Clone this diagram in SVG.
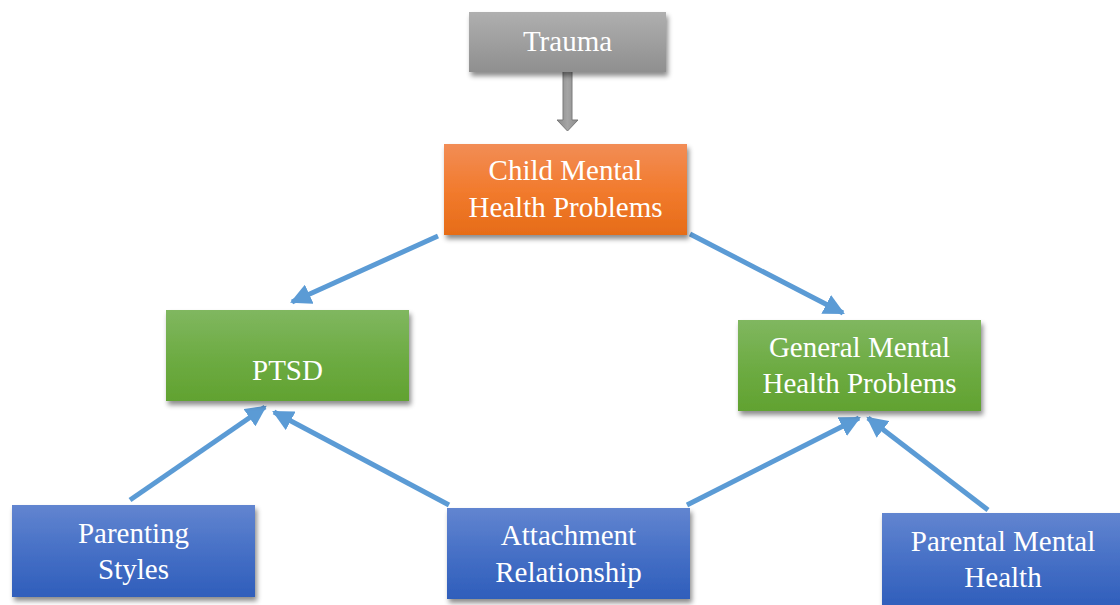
<svg xmlns="http://www.w3.org/2000/svg" width="1120" height="605" viewBox="0 0 1120 605">
<defs>
<linearGradient id="gGray" x1="0" y1="0" x2="0" y2="1"><stop offset="0" stop-color="#afafaf"/><stop offset="1" stop-color="#8f8f8f"/></linearGradient>
<linearGradient id="gOrange" x1="0" y1="0" x2="0" y2="1"><stop offset="0" stop-color="#f28d56"/><stop offset="0.5" stop-color="#f27b2e"/><stop offset="1" stop-color="#e66c18"/></linearGradient>
<linearGradient id="gGreen" x1="0" y1="0" x2="0" y2="1"><stop offset="0" stop-color="#80b760"/><stop offset="0.5" stop-color="#6eac44"/><stop offset="1" stop-color="#61a230"/></linearGradient>
<linearGradient id="gBlue" x1="0" y1="0" x2="0" y2="1"><stop offset="0" stop-color="#6285d0"/><stop offset="0.5" stop-color="#4670c6"/><stop offset="1" stop-color="#2f5ebb"/></linearGradient>
<linearGradient id="gShaft" x1="0" y1="0" x2="1" y2="0"><stop offset="0" stop-color="#8a8a8a"/><stop offset="0.5" stop-color="#a5a5a5"/><stop offset="1" stop-color="#8a8a8a"/></linearGradient>
<filter id="sh" x="-10%" y="-10%" width="125%" height="135%"><feDropShadow dx="2" dy="4" stdDeviation="2.5" flood-color="#000" flood-opacity="0.45"/></filter>
<marker id="ah" viewBox="0 0 10 10" refX="9" refY="5" markerWidth="4.2" markerHeight="4.2" orient="auto" markerUnits="strokeWidth"><path d="M0,0 L10,5 L0,10 z" fill="#5b9bd5"/></marker>
</defs>
<style>
.lbl{font-family:"Liberation Serif","Times New Roman",serif;font-size:29px;fill:#fff;text-anchor:middle}
.con{stroke:#5b9bd5;stroke-width:5;fill:none;marker-end:url(#ah)}
</style>
<rect width="1120" height="605" fill="#fff"/>
<g id="connectors">
<path d="M563,68 H572 V120 H578 L567.5,131 L557,120 H563 Z" fill="url(#gShaft)" stroke="#7a7a7a" stroke-width="1"/>
<line class="con" x1="438" y1="236" x2="292" y2="302"/>
<line class="con" x1="690" y1="234" x2="843" y2="313"/>
<line class="con" x1="130" y1="500" x2="265" y2="407"/>
<line class="con" x1="449" y1="505" x2="274" y2="412"/>
<line class="con" x1="687" y1="505" x2="859" y2="418"/>
<line class="con" x1="988" y1="510" x2="868" y2="418"/>
</g>
<g id="trauma"><rect x="469" y="12" width="197" height="60" fill="url(#gGray)" filter="url(#sh)"/><text class="lbl" x="567.5" y="51">Trauma</text></g>
<g id="child"><rect x="444" y="144" width="243" height="91" fill="url(#gOrange)" filter="url(#sh)"/><text class="lbl" x="565.5" y="180">Child Mental</text><text class="lbl" x="565.5" y="217">Health Problems</text></g>
<g id="ptsd"><rect x="166" y="310" width="243" height="91" fill="url(#gGreen)" filter="url(#sh)"/><text class="lbl" x="287.5" y="380">PTSD</text></g>
<g id="general"><rect x="738" y="320" width="243" height="91" fill="url(#gGreen)" filter="url(#sh)"/><text class="lbl" x="859.5" y="357">General Mental</text><text class="lbl" x="859.5" y="393">Health Problems</text></g>
<g id="parenting"><rect x="12" y="505" width="243" height="92" fill="url(#gBlue)" filter="url(#sh)"/><text class="lbl" x="133.5" y="543">Parenting</text><text class="lbl" x="133.5" y="579">Styles</text></g>
<g id="attachment"><rect x="447" y="508" width="243" height="91" fill="url(#gBlue)" filter="url(#sh)"/><text class="lbl" x="568.5" y="545">Attachment</text><text class="lbl" x="568.5" y="582">Relationship</text></g>
<g id="parental"><rect x="882" y="513" width="243" height="95" fill="url(#gBlue)" filter="url(#sh)"/><text class="lbl" x="1003" y="551">Parental Mental</text><text class="lbl" x="1003" y="587">Health</text></g>
</svg>
